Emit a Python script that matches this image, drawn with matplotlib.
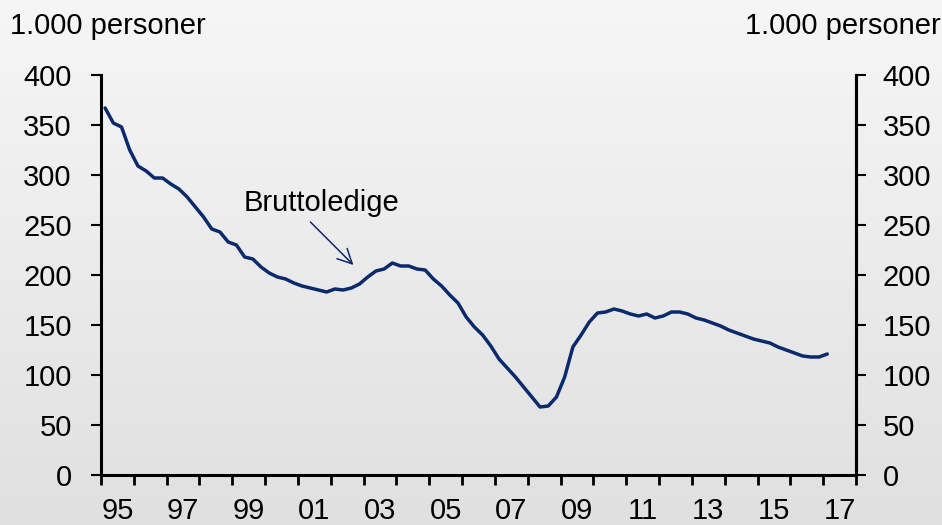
import numpy as np
import pandas as pd
import matplotlib.pyplot as plt
from matplotlib.ticker import FixedLocator, NullFormatter, FixedFormatter

plt.rcParams['font.family'] = ['Liberation Sans', 'DejaVu Sans']

# Bruttoledige, kvartalsvis 1995K1 - 2017K1 (1.000 personer)
quarters = pd.period_range("1995Q1", "2017Q1", freq="Q")
bruttoledige = [
    367, 352, 348, 325, 309, 304, 297, 297, 291, 286, 278, 268, 258, 246, 243, 233,
    230, 218, 216, 208, 202, 198, 196, 192, 189, 187, 185, 183, 186, 185, 187, 191,
    198, 204, 206, 212, 209, 209, 206, 205, 196, 189, 180, 172, 158, 148, 140, 129,
    116, 107, 98, 88, 78, 68, 69, 78, 98, 128, 140, 153, 162, 163, 166, 164,
    161, 159, 161, 157, 159, 163, 163, 161, 157, 155, 152, 149, 145, 142, 139, 136,
    134, 132, 128, 125, 122, 119, 118, 118, 121,
]
year_labels = ["95", "97", "99", "01", "03", "05", "07", "09", "11", "13", "15", "17"]
yticks = [0, 50, 100, 150, 200, 250, 300, 350, 400]

x = np.array([q.year + (q.quarter - 0.5) / 4 for q in quarters])

fig = plt.figure(figsize=(9.42, 5.25), dpi=100)

# grå baggrund med svag gradient
bg = fig.add_axes([0, 0, 1, 1], zorder=-10)
grad = np.linspace(0, 1, 256).reshape(-1, 1)
bg.imshow(grad, aspect="auto", cmap=plt.matplotlib.colors.LinearSegmentedColormap.from_list(
    "g", ["#f6f6f6", "#e0e0e0"]), extent=[0, 1, 0, 1], origin="upper")
bg.axis("off")

ax = fig.add_axes([101 / 942, 50 / 525, 755 / 942, 400 / 525])
ax.set_facecolor("none")
ax.plot(x, bruttoledige, color="#0b2a6b", lw=2.5, solid_capstyle="round")

ax.set_xlim(1995, 2018)
ax.set_ylim(0, 400)

ax.spines["top"].set_visible(False)
for s in ["left", "right", "bottom"]:
    ax.spines[s].set_linewidth(2.2)

ax.xaxis.set_major_locator(FixedLocator(range(1995, 2019)))
ax.xaxis.set_major_formatter(NullFormatter())
ax.xaxis.set_minor_locator(FixedLocator([1995.5 + 2 * i for i in range(len(year_labels))]))
ax.xaxis.set_minor_formatter(FixedFormatter(year_labels))
ax.tick_params(axis="x", which="major", length=7, width=2, direction="out")
ax.tick_params(axis="x", which="minor", length=0, pad=16, labelsize=21)

ax.set_yticks(yticks)
ax.tick_params(axis="y", which="major", length=7, width=1.5, direction="out",
               pad=14, labelsize=21)

ax2 = ax.twinx()
ax2.set_ylim(0, 400)
ax2.set_yticks(yticks)
for s in ["top", "left", "bottom"]:
    ax2.spines[s].set_visible(False)
ax2.spines["right"].set_linewidth(2.2)
ax2.tick_params(axis="y", length=7, width=1.5, direction="out", pad=12, labelsize=21)

fig.text(10 / 942, 1 - 26 / 525, "1.000 personer", fontsize=21, va="center", ha="left")
fig.text(941 / 942, 1 - 26 / 525, "1.000 personer", fontsize=21, va="center", ha="right")

ax.text(2001.72, 272, "Bruttoledige", fontsize=21, ha="center", va="center")
ax.annotate("", xy=(2002.69, 210), xytext=(2001.38, 253),
            arrowprops=dict(arrowstyle="->", color="#0b2a6b", lw=1.1,
                            mutation_scale=26, shrinkA=0, shrinkB=0))

fig.savefig("out.png", dpi=100)
